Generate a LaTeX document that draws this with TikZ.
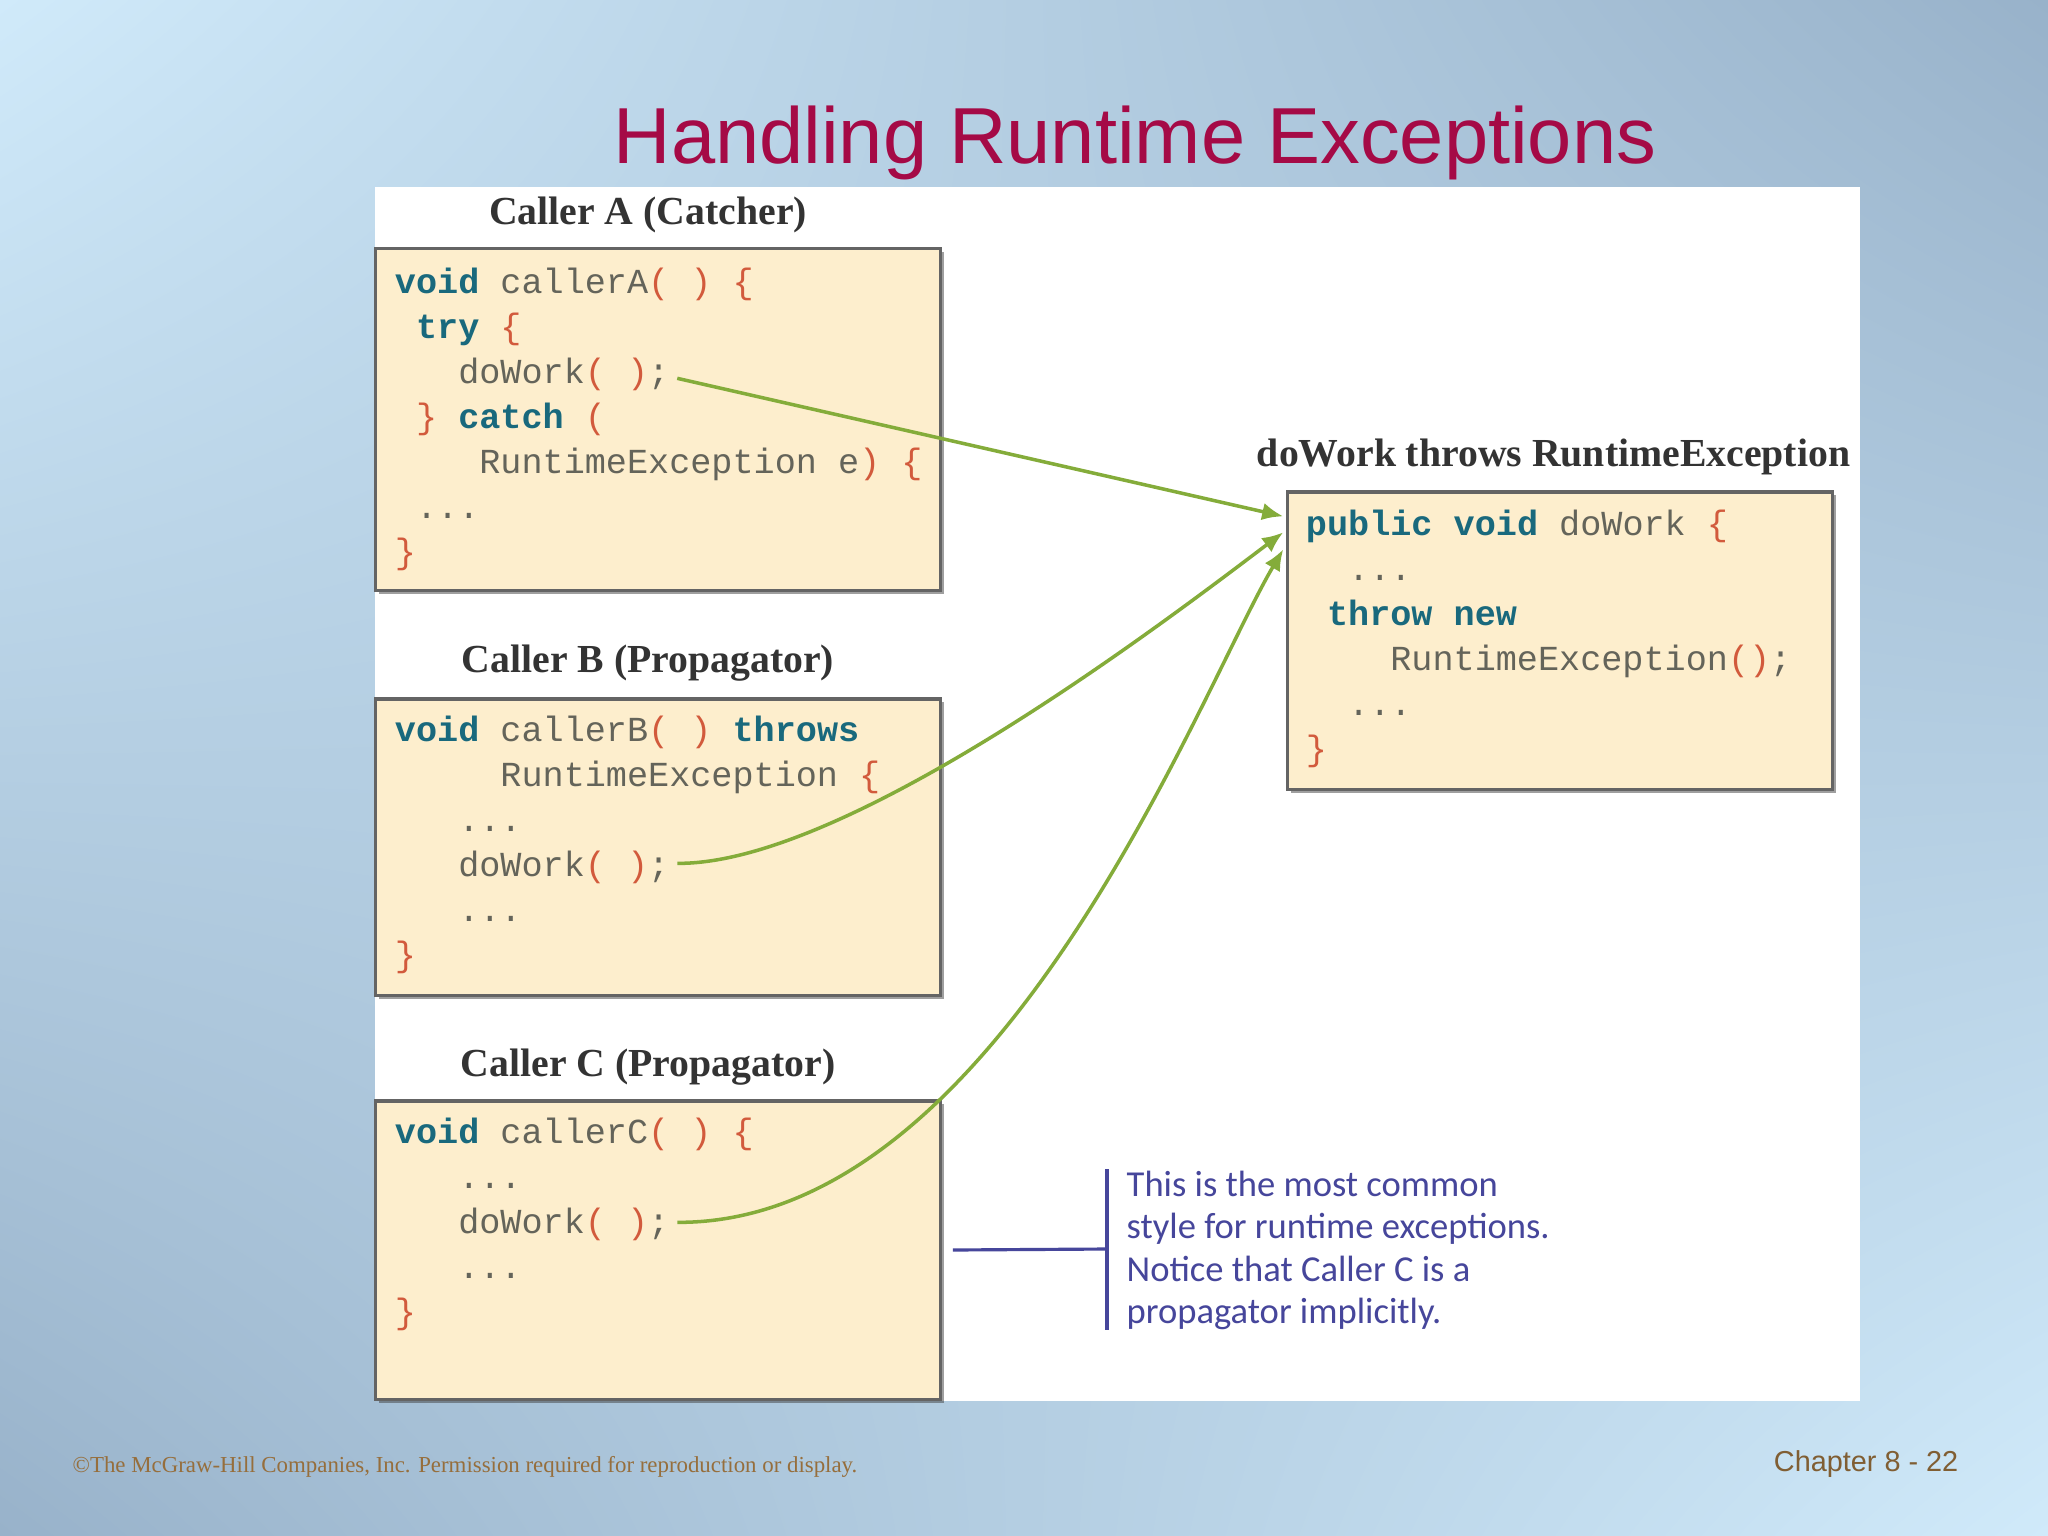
\documentclass[tikz,border=0pt]{standalone}
\usepackage{fontspec}
\setmainfont{Liberation Serif}
\setsansfont{Liberation Sans}
\setmonofont{Liberation Mono}
\newfontfamily\notefont{Carlito}
\usetikzlibrary{positioning, arrows.meta, shadows, shadings}
\definecolor{bgA}{RGB}{208,234,250}
\definecolor{bgB}{RGB}{152,178,202}
\definecolor{titlered}{RGB}{165,10,70}
\definecolor{footbrown}{RGB}{150,110,60}
\definecolor{boxcream}{RGB}{253,238,205}
\definecolor{boxedge}{RGB}{100,100,100}
\definecolor{codekw}{RGB}{25,105,125}
\definecolor{codebr}{RGB}{210,90,60}
\definecolor{codetx}{RGB}{100,100,90}
\definecolor{flowgreen}{RGB}{132,172,58}
\definecolor{noteblue}{RGB}{70,70,155}
\newcommand\kw[1]{\textcolor{codekw}{\bfseries #1}}
\newcommand\br[1]{\textcolor{codebr}{#1}}
\newcommand\pad[1]{\hspace*{#1\fontcharwd\font`0}}

\begin{document}
\begin{tikzpicture}[x=0.01cm, y=-0.01cm,
  codebox/.style={rectangle, draw=boxedge, line width=0.9pt, fill=boxcream,
    drop shadow={shadow xshift=1pt, shadow yshift=-1pt, fill=black!75}},
  code/.style={anchor=north west, inner sep=0pt, align=left, text=codetx,
    font=\ttfamily\fontsize{10}{12.8}\selectfont},
  head/.style={anchor=base, inner sep=0pt, font=\bfseries\fontsize{11.3}{13}\selectfont, text=black!80},
  flow/.style={draw=flowgreen, line width=1pt, -{Latex[length=6pt, width=5pt]}},
  noteline/.style={draw=noteblue, line width=0.9pt}
]
% background and panel
\useasboundingbox (0,0) rectangle (2048,1536);
\shade[upper left=bgA, upper right=bgB, lower left=bgB, lower right=bgA] (0,0) rectangle (2048,1536);
\fill[white] (375,187) rectangle (1860,1401);

\node[anchor=base, inner sep=0pt, text=titlered, font=\sffamily\fontsize{22.6}{26}\selectfont] (title) at (1135,163) {Handling Runtime Exceptions};

% caller boxes
\node[codebox, minimum width=5.64cm, minimum height=3.41cm] (boxA) at (658,419.5) {};
\node[codebox, minimum width=5.64cm, minimum height=2.96cm] (boxB) at (658,847) {};
\node[codebox, minimum width=5.64cm, minimum height=2.98cm] (boxC) at (658,1250) {};
\node[codebox, minimum width=5.44cm, minimum height=2.97cm] (boxD) at (1560,640.5) {};

\node[head] (hA) at ([shift={(-10,-23)}]boxA.north) {Caller A (Catcher)};
\node[head] (hB) at ([shift={(-10,-25)}]boxB.north) {Caller B (Propagator)};
\node[head] (hC) at ([shift={(-10,-23)}]boxC.north) {Caller C (Propagator)};
\node[head, anchor=base west] (hD) at ([shift={(-30,-24)}]boxD.north west) {doWork throws RuntimeException};

\node[code] (cA) at ([shift={(20,20)}]boxA.north west) {%
\kw{void} callerA\br{( )} \br{\{}\\
\pad{1}\kw{try} \br{\{}\\
\pad{3}doWork\br{( )};\\
\pad{1}\br{\}} \kw{catch} \br{(}\\
\pad{4}RuntimeException e\br{)} \br{\{}\\
\pad{1}...\\
\br{\}}};
\node[code] (cB) at ([shift={(20,18)}]boxB.north west) {%
\kw{void} callerB\br{( )} \kw{throws}\\
\pad{5}RuntimeException \br{\{}\\
\pad{3}...\\
\pad{3}doWork\br{( )};\\
\pad{3}...\\
\br{\}}};
\node[code] (cC) at ([shift={(20,18)}]boxC.north west) {%
\kw{void} callerC\br{( )} \br{\{}\\
\pad{3}...\\
\pad{3}doWork\br{( )};\\
\pad{3}...\\
\br{\}}};
\node[code] (cD) at ([shift={(19,19)}]boxD.north west) {%
\kw{public} \kw{void} doWork \br{\{}\\
\pad{2}...\\
\pad{1}\kw{throw} \kw{new}\\
\pad{4}RuntimeException\br{()};\\
\pad{2}...\\
\br{\}}};

% call arrows
\coordinate (sA) at ([shift={(303,131)}]boxA.north west);
\coordinate (sB) at ([shift={(303,166)}]boxB.north west);
\coordinate (sC) at ([shift={(303,123)}]boxC.north west);
\coordinate (tA) at ([shift={(-3,26)}]boxD.north west);
\coordinate (tB) at ([shift={(-3,42)}]boxD.north west);
\coordinate (tC) at ([shift={(-3,59)}]boxD.north west);
\draw[flow] (sA) -- (tA);
\draw[flow] (sB) .. controls (850,865) and (1180,610) .. (tB);
\draw[flow] (sC) .. controls (1000,1224) and (1200,690) .. (tC);

% note
\node[anchor=north west, inner sep=0pt, align=left, text=noteblue,
  font=\notefont\fontsize{10.4}{12.1}\selectfont] (note) at (1126,1170) {This is the most common\\ style for runtime exceptions.\\ Notice that Caller C is a\\ propagator implicitly.};
\coordinate (barT) at (1107,1169);
\coordinate (barB) at (1107,1330);
\coordinate (barM) at (1107,1249);
\draw[noteline] (barT) -- (barB);
\draw[noteline] ([xshift=0.11cm]boxC.east) -- (barM);

% footer
\node[anchor=base west, inner sep=0pt, text=footbrown, font=\fontsize{6.5}{8}\selectfont] (copy) at (72,1472) {\textcopyright The McGraw-Hill Companies, Inc. Permission required for reproduction or display.};
\node[anchor=base east, inner sep=0pt, text=footbrown!85!black, font=\sffamily\fontsize{8.2}{10}\selectfont] (page) at (1959,1471) {Chapter 8 - 22};
\end{tikzpicture}
\end{document}
